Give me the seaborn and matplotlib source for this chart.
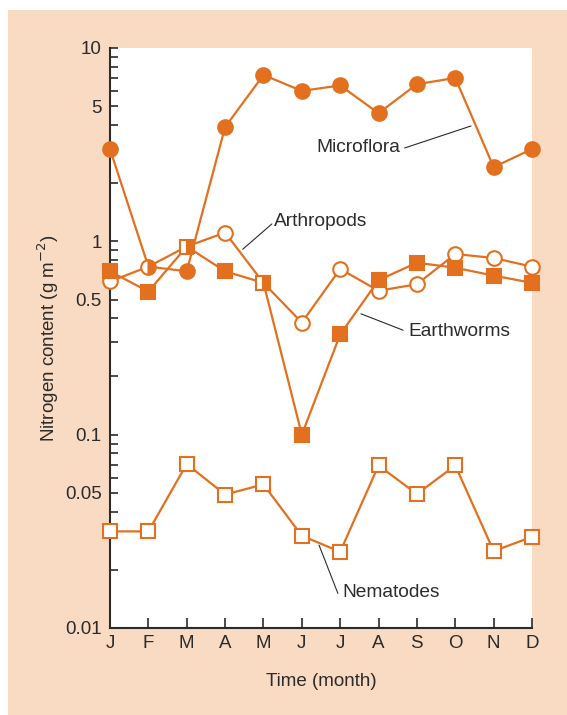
import numpy as np
import pandas as pd
import seaborn as sns
import matplotlib.pyplot as plt
from matplotlib.patches import Rectangle
from matplotlib.ticker import FixedLocator, FixedFormatter, NullFormatter

months = ["J", "F", "M", "A", "M", "J", "J", "A", "S", "O", "N", "D"]
microflora = [3.0, 0.74, 0.70, 3.9, 7.25, 6.0, 6.4, 4.6, 6.5, 7.0, 2.42, 3.0]
arthropods = [0.62, 0.74, 0.94, 1.11, 0.61, 0.38, 0.72, 0.555, 0.60, 0.86, 0.82, 0.74]
earthworms = [0.70, 0.55, 0.94, 0.70, 0.61, 0.10, 0.33, 0.63, 0.775, 0.73, 0.665, 0.61]
nematodes = [0.0316, 0.0316, 0.0705, 0.049, 0.0553, 0.030, 0.0248, 0.0693, 0.0493, 0.0693, 0.025, 0.0296]
ytick_vals = [0.01, 0.05, 0.1, 0.5, 1, 5, 10]
ytick_labels = ["0.01", "0.05", "0.1", "0.5", "1", "5", "10"]

orange = "#E2701F"
peach = "#F9DBC4"
dark = "#2B2B2B"

sns.set_style("ticks")
plt.rcParams["font.family"] = ["Liberation Sans", "DejaVu Sans"]
plt.rcParams["font.size"] = 13

x = np.arange(len(months))
df = pd.DataFrame({
    "month": np.tile(x, 4),
    "value": microflora + arthropods + earthworms + nematodes,
    "group": np.repeat(["Microflora", "Arthropods", "Earthworms", "Nematodes"], len(months)),
})

fig = plt.figure(figsize=(5.67, 7.15), dpi=100)
fig.patch.set_facecolor("white")
fig.patches.append(Rectangle((8 / 567, 0), 1, 705 / 715, transform=fig.transFigure,
                             facecolor=peach, edgecolor="none", zorder=-10))
ax = fig.add_axes([110 / 567, 87 / 715, 422 / 567, 580 / 715])
ax.set_facecolor("white")

sns.lineplot(data=df, x="month", y="value", hue="group", units="group", estimator=None,
             palette=[orange] * 4, legend=False, lw=1.6, ax=ax, zorder=2)
for line in ax.lines:
    line.set_clip_on(False)

# markers (some shared points are drawn half filled like the original)
ms_c, ms_s, mew = 10.5, 9.5, 1.5
for i in range(len(months)):
    fs = "right" if i == 1 else "full"
    ax.plot(x[i], microflora[i], marker="o", ms=ms_c, color=orange, mec=orange, mew=mew,
            fillstyle=fs, markerfacecoloralt="white", clip_on=False, zorder=4, ls="none")
    if i not in (1, 2, 4):
        ax.plot(x[i], arthropods[i], marker="o", ms=ms_c, mfc="white", mec=orange, mew=mew,
                clip_on=False, zorder=4, ls="none")
    fs = "right" if i in (2, 4) else "full"
    ax.plot(x[i], earthworms[i], marker="s", ms=ms_s, color=orange, mec=orange, mew=mew,
            fillstyle=fs, markerfacecoloralt="white", clip_on=False, zorder=4, ls="none")
    ax.plot(x[i], nematodes[i], marker="s", ms=ms_s, mfc="white", mec=orange, mew=mew,
            clip_on=False, zorder=4, ls="none")

ax.set_yscale("log")
ax.set_ylim(0.01, 10)
ax.set_xlim(0, 11)
ax.yaxis.set_major_locator(FixedLocator(ytick_vals))
ax.yaxis.set_major_formatter(FixedFormatter(ytick_labels))
minor = [m * d for d in (0.01, 0.1, 1) for m in (2, 3, 4, 6, 7, 8, 9)]
ax.yaxis.set_minor_locator(FixedLocator(minor))
ax.yaxis.set_minor_formatter(NullFormatter())
ax.set_xticks(x)
ax.set_xticklabels(months)

ax.tick_params(axis="y", which="both", direction="in", length=6, width=1.2, color=dark,
               labelsize=13.5, labelcolor=dark, pad=6)
ax.tick_params(axis="x", direction="in", length=7, width=1.2, color=dark,
               labelsize=13.5, labelcolor=dark, pad=5)
sns.despine(ax=ax)
for s in ("left", "bottom"):
    ax.spines[s].set_color(dark)
    ax.spines[s].set_linewidth(1.5)

ax.set_xlabel("Time (month)", fontsize=13.5, color=dark, labelpad=15)
ax.set_ylabel("Nitrogen content (g m$^{-2}$)", fontsize=13.5, color=dark, labelpad=3)

# labels with leader lines
labels = [
    ("Microflora", (5.38, 3.04), [(7.68, 9.41), (3.04, 3.95)]),
    ("Arthropods", (4.27, 1.27), [(4.22, 3.46), (1.23, 0.91)]),
    ("Earthworms", (7.77, 0.34), [(7.64, 6.54), (0.347, 0.422)]),
    ("Nematodes", (6.05, 0.0152), [(5.94, 5.45), (0.0151, 0.0268)]),
]
for txt, (tx, ty), (lx, ly) in labels:
    ax.text(tx, ty, txt, ha="left", va="center", fontsize=13.8, color=dark, zorder=5)
    ax.plot(lx, ly, color=dark, lw=0.8, zorder=3)

fig.savefig("out.png", dpi=100, facecolor=fig.get_facecolor())
